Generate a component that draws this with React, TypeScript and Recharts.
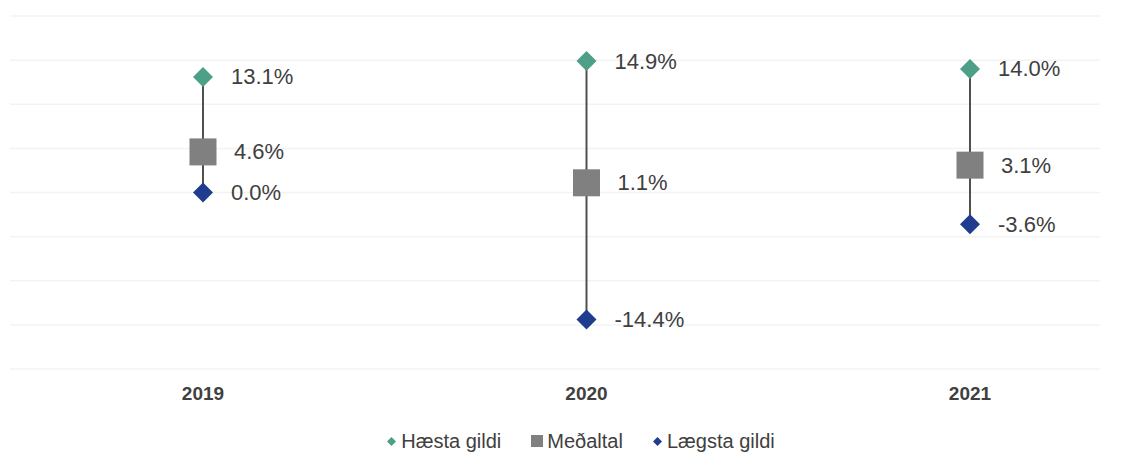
import React from 'react';
import {
  ComposedChart,
  Scatter,
  ErrorBar,
  XAxis,
  YAxis,
  CartesianGrid,
  Legend,
} from 'recharts';

// Colours
const COLORS = {
  high: '#4e9f87',
  mean: '#808080',
  low: '#1f3c8e',
  line: '#505050',
  text: '#404040',
  grid: '#f3f3f3',
};

const years = ['2019', '2020', '2021'];
const highValues = [13.1, 14.9, 14.0];
const meanValues = [4.6, 1.1, 3.1];
const lowValues = [0.0, -14.4, -3.6];
const yTicks = [-20, -15, -10, -5, 0, 5, 10, 15, 20];

const data = years.map((year, i) => ({
  year,
  high: highValues[i],
  mean: meanValues[i],
  low: lowValues[i],
  err: [meanValues[i] - lowValues[i], highValues[i] - meanValues[i]],
}));

const fmt = (v: number) => `${v.toFixed(1)}%`;

const labelStyle = {
  fontFamily: 'Liberation Sans, Arial, sans-serif',
  fontSize: 22,
  fill: COLORS.text,
};

function diamondShape(color: string, key: 'high' | 'low') {
  return (props: any) => {
    const { cx, cy, payload } = props;
    const r = 10;
    return (
      <g>
        <path
          d={`M${cx},${cy - r}L${cx + r},${cy}L${cx},${cy + r}L${cx - r},${cy}Z`}
          fill={color}
        />
        <text x={cx + 28} y={cy} dominantBaseline="central" style={labelStyle}>
          {fmt(payload[key])}
        </text>
      </g>
    );
  };
}

function squareShape(props: any) {
  const { cx, cy, payload } = props;
  const s = 27;
  return (
    <g>
      <rect x={cx - s / 2} y={cy - s / 2} width={s} height={s} fill={COLORS.mean} />
      <text x={cx + 31} y={cy} dominantBaseline="central" style={labelStyle}>
        {fmt(payload.mean)}
      </text>
    </g>
  );
}

const legendItems = [
  { name: 'Hæsta gildi', color: COLORS.high, shape: 'diamond' },
  { name: 'Meðaltal', color: COLORS.mean, shape: 'square' },
  { name: 'Lægsta gildi', color: COLORS.low, shape: 'diamond' },
];

function LegendContent() {
  return (
    <div
      style={{
        display: 'flex',
        justifyContent: 'center',
        alignItems: 'center',
        height: 22,
        paddingLeft: 52,
        fontFamily: 'Liberation Sans, Arial, sans-serif',
        fontSize: 20,
        color: COLORS.text,
      }}
    >
      {legendItems.map((item, i) => (
        <div
          key={item.name}
          style={{
            display: 'flex',
            alignItems: 'center',
            marginRight: i < legendItems.length - 1 ? 30 : 0,
          }}
        >
          {item.shape === 'diamond' ? (
            <svg width={9} height={9} style={{ marginRight: 5 }}>
              <path d="M4.5,0L9,4.5L4.5,9L0,4.5Z" fill={item.color} />
            </svg>
          ) : (
            <svg width={12} height={12} style={{ marginRight: 4 }}>
              <rect width={12} height={12} fill={item.color} />
            </svg>
          )}
          <span>{item.name}</span>
        </div>
      ))}
    </div>
  );
}

export default function App() {
  return (
    <div style={{ width: 1142, height: 452, background: '#fff' }}>
      <style>{`body{margin:0}`}</style>
      <ComposedChart
        width={1142}
        height={452}
        data={data}
        margin={{ top: 16, right: 42, left: 10, bottom: 0 }}
      >
        <CartesianGrid vertical={false} stroke={COLORS.grid} strokeWidth={1.5} />
        <XAxis
          dataKey="year"
          scale="point"
          padding={{ left: 193, right: 130 }}
          axisLine={false}
          tickLine={false}
          tickMargin={12}
          height={61}
          tick={{
            fill: COLORS.text,
            fontSize: 19,
            fontWeight: 'bold',
            fontFamily: 'Liberation Sans, Arial, sans-serif',
          }}
        />
        <YAxis hide domain={[-20, 20]} ticks={yTicks} />
        <Legend verticalAlign="bottom" height={22} content={<LegendContent />} />
        <Scatter dataKey="mean" shape={squareShape} isAnimationActive={false} legendType="square">
          <ErrorBar
            dataKey="err"
            direction="y"
            width={0}
            stroke={COLORS.line}
            strokeWidth={2}
          />
        </Scatter>
        <Scatter dataKey="high" shape={diamondShape(COLORS.high, 'high')} isAnimationActive={false} />
        <Scatter dataKey="low" shape={diamondShape(COLORS.low, 'low')} isAnimationActive={false} />
      </ComposedChart>
    </div>
  );
}
